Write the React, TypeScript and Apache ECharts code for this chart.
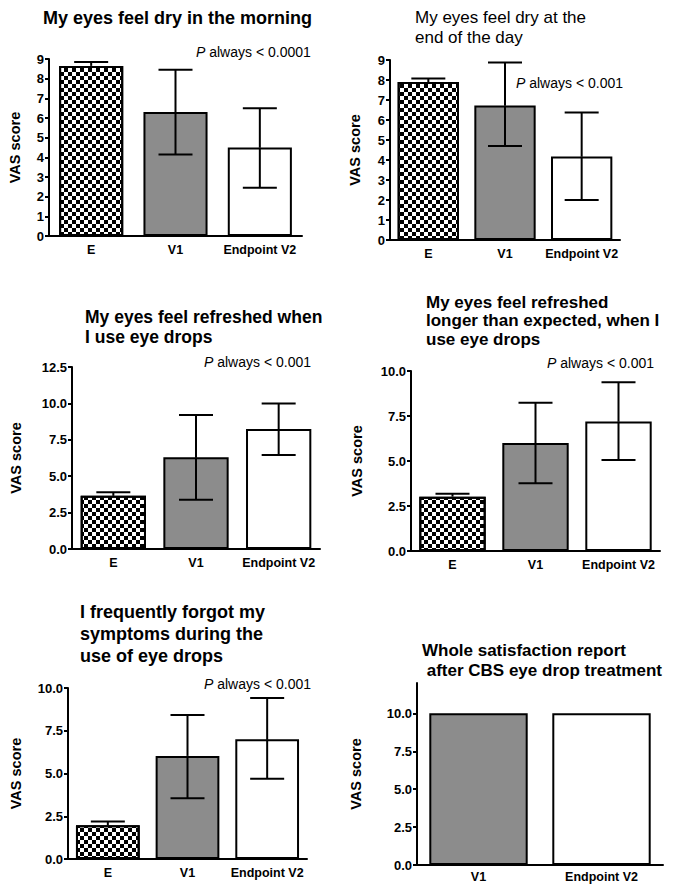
import React, { useEffect, useRef } from "react";
import * as echarts from "echarts";

// ---------- DATA ----------
const catsEVV = ["E", "V1", "Endpoint V2"];
const catsVV = ["V1", "Endpoint V2"];

const p1Mean = [8.65, 6.3, 4.5];
const p1Hi = [8.85, 8.45, 6.5];
const p1Lo = [null, 4.15, 2.45];

const p2Mean = [7.9, 6.72, 4.18];
const p2Hi = [8.07, 8.87, 6.38];
const p2Lo = [null, 4.7, 2.0];

const p3Mean = [3.65, 6.3, 8.24];
const p3Hi = [3.9, 9.2, 10.0];
const p3Lo = [null, 3.38, 6.46];

const p4Mean = [3.02, 6.0, 7.2];
const p4Hi = [3.18, 8.23, 9.38];
const p4Lo = [null, 3.77, 5.05];

const p5Mean = [1.97, 6.03, 7.0];
const p5Hi = [2.2, 8.42, 9.42];
const p5Lo = [null, 3.55, 4.7];

const p6Mean = [10.0, 10.0];

const titles = [
  ["My eyes feel dry in the morning"],
  ["My eyes feel dry at the", "end of the day"],
  ["My eyes feel refreshed when", "I use eye drops"],
  ["My eyes feel refreshed", "longer than expected, when I", "use eye drops"],
  ["I frequently forgot my", "symptoms during the", "use of eye drops"],
  ["Whole satisfaction report", " after CBS eye drop treatment"],
];
const pTexts = ["0.0001", "0.001", "0.001", "0.001", "0.001"];
const yName = "VAS score";

// ---------- STYLE / LAYOUT ----------
const FONT = "'Liberation Sans', Arial, sans-serif";

const checker = {
  symbol: "rect",
  symbolSize: 1,
  color: "#000",
  dashArrayX: [[4, 4], [0, 4, 4, 0]],
  dashArrayY: [4, 0],
  rotation: 0,
};
const catStyle: Record<string, any> = {
  E: { color: "#fff", decal: checker },
  V1: { color: "#8c8c8c" },
  "Endpoint V2": { color: "#fff" },
};

type Panel = {
  cats: string[];
  mean: number[];
  hi?: number[];
  lo?: (number | null)[];
  grid: { left: number; top: number; width: number; height: number };
  max: number;
  interval: number;
  decimals: number;
  nameGap: number;
  gap: string;
  xMargin: number;
  title: string[];
  titleX: number;
  titleY: number;
  titleLH: number;
  titleSize: number;
  titleWeight: string;
  p?: { text: string; x: number; y: number };
};

const panels: Panel[] = [
  {
    cats: catsEVV, mean: p1Mean, hi: p1Hi, lo: p1Lo,
    grid: { left: 49, top: 59, width: 253, height: 177 },
    max: 9, interval: 1, decimals: 0, nameGap: 27, gap: "24%", xMargin: 7,
    title: titles[0], titleX: 43, titleY: 18, titleLH: 20, titleSize: 18, titleWeight: "bold",
    p: { text: pTexts[0], x: 196, y: 52 },
  },
  {
    cats: catsEVV, mean: p2Mean, hi: p2Hi, lo: p2Lo,
    grid: { left: 390, top: 60, width: 230, height: 180 },
    max: 9, interval: 1, decimals: 0, nameGap: 28, gap: "20%", xMargin: 7,
    title: titles[1], titleX: 415, titleY: 17, titleLH: 20, titleSize: 17, titleWeight: "normal",
    p: { text: pTexts[1], x: 516, y: 83 },
  },
  {
    cats: catsEVV, mean: p3Mean, hi: p3Hi, lo: p3Lo,
    grid: { left: 72, top: 367, width: 248, height: 182 },
    max: 12.5, interval: 2.5, decimals: 1, nameGap: 49, gap: "21%", xMargin: 7,
    title: titles[2], titleX: 85, titleY: 317, titleLH: 20, titleSize: 17.5, titleWeight: "bold",
    p: { text: pTexts[2], x: 204, y: 362 },
  },
  {
    cats: catsEVV, mean: p4Mean, hi: p4Hi, lo: p4Lo,
    grid: { left: 411, top: 371, width: 249, height: 180 },
    max: 10, interval: 2.5, decimals: 1, nameGap: 47, gap: "20%", xMargin: 7,
    title: titles[3], titleX: 426, titleY: 302, titleLH: 18.5, titleSize: 17, titleWeight: "bold",
    p: { text: pTexts[3], x: 547, y: 363 },
  },
  {
    cats: catsEVV, mean: p5Mean, hi: p5Hi, lo: p5Lo,
    grid: { left: 68, top: 688, width: 239, height: 171 },
    max: 10, interval: 2.5, decimals: 1, nameGap: 45, gap: "20%", xMargin: 7,
    title: titles[4], titleX: 80, titleY: 612, titleLH: 22, titleSize: 18, titleWeight: "bold",
    p: { text: pTexts[4], x: 204, y: 684 },
  },
  {
    cats: catsVV, mean: p6Mean,
    grid: { left: 417, top: 683, width: 246, height: 182 },
    max: 12, interval: 2.5, decimals: 1, nameGap: 54, gap: "20%", xMargin: 5,
    title: titles[5], titleX: 422, titleY: 650, titleLH: 20, titleSize: 17, titleWeight: "bold",
  },
];

function buildOption() {
  const grid: any[] = [];
  const xAxis: any[] = [];
  const yAxis: any[] = [];
  const series: any[] = [];
  const graphic: any[] = [];

  panels.forEach((p, gi) => {
    grid.push({ ...p.grid, containLabel: false, outerBoundsMode: "none" });
    xAxis.push({
      type: "category",
      gridIndex: gi,
      data: p.cats,
      axisLine: { lineStyle: { color: "#000", width: 2 } },
      axisTick: { alignWithLabel: true, length: 5, interval: 0, lineStyle: { color: "#000", width: 2 } },
      axisLabel: {
        interval: 0,
        hideOverlap: false,
        color: "#000",
        fontWeight: "bold",
        fontSize: 12.5,
        fontFamily: FONT,
        margin: p.xMargin,
      },
      splitLine: { show: false },
    });
    yAxis.push({
      type: "value",
      gridIndex: gi,
      min: 0,
      max: p.max,
      interval: p.interval,
      name: yName,
      nameLocation: "middle",
      nameGap: p.nameGap,
      nameTextStyle: { color: "#000", fontWeight: "bold", fontSize: 14.5, fontFamily: FONT },
      axisLine: { show: true, lineStyle: { color: "#000", width: 2 } },
      axisTick: { show: true, length: 4, lineStyle: { color: "#000", width: 2 } },
      axisLabel: {
        color: "#000",
        fontWeight: "bold",
        fontSize: 13,
        fontFamily: FONT,
        margin: 5,
        showMaxLabel: p.max % p.interval === 0,
        formatter: (v: number) => v.toFixed(p.decimals),
      },
      splitLine: { show: false },
    });
    series.push({
      type: "bar",
      xAxisIndex: gi,
      yAxisIndex: gi,
      barCategoryGap: p.gap,
      data: p.mean.map((v, i) => ({
        value: v,
        itemStyle: { ...catStyle[p.cats[i]], borderColor: "#000", borderWidth: 2 },
      })),
      z: 2,
    });
    if (p.hi && p.lo) {
      const hi = p.hi;
      const lo = p.lo;
      series.push({
        type: "custom",
        xAxisIndex: gi,
        yAxisIndex: gi,
        z: 5,
        encode: { x: 0, y: [1, 2, 3] },
        data: p.mean.map((m, i) => [i, hi[i], lo[i] == null ? m : lo[i], m]),
        renderItem: (params: any, api: any) => {
          const idx = api.value(0);
          const h = api.value(1);
          const l = api.value(2);
          const m = api.value(3);
          const pt = api.coord([idx, h]);
          const pm = api.coord([idx, m]);
          const pl = api.coord([idx, l]);
          const cap = 17;
          const st = { stroke: "#000", lineWidth: 2 };
          const children: any[] = [
            { type: "line", shape: { x1: pt[0], y1: pt[1], x2: pm[0], y2: pm[1] }, style: st },
            { type: "line", shape: { x1: pt[0] - cap, y1: pt[1], x2: pt[0] + cap, y2: pt[1] }, style: st },
          ];
          if (l < m - 1e-9) {
            children.push({ type: "line", shape: { x1: pm[0], y1: pm[1], x2: pl[0], y2: pl[1] }, style: st });
            children.push({ type: "line", shape: { x1: pl[0] - cap, y1: pl[1], x2: pl[0] + cap, y2: pl[1] }, style: st });
          }
          return { type: "group", children };
        },
      });
    }
    p.title.forEach((line, li) => {
      graphic.push({
        type: "text",
        x: p.titleX,
        y: p.titleY + li * p.titleLH,
        style: {
          text: line,
          fill: "#000",
          fontSize: p.titleSize,
          fontWeight: p.titleWeight,
          fontFamily: FONT,
          verticalAlign: "middle",
          align: "left",
        },
      });
    });
    if (p.p) {
      graphic.push({
        type: "text",
        x: p.p.x,
        y: p.p.y,
        style: {
          text: "{i|P} always < " + p.p.text,
          fill: "#000",
          fontSize: 14,
          fontFamily: FONT,
          verticalAlign: "middle",
          align: "left",
          rich: { i: { fontStyle: "italic", fontSize: 14, fontFamily: FONT, fill: "#000" } },
        },
      });
    }
  });

  return {
    animation: false,
    backgroundColor: "#fff",
    textStyle: { fontFamily: FONT },
    grid,
    xAxis,
    yAxis,
    series,
    graphic,
  };
}

export default function App() {
  const ref = useRef<HTMLDivElement>(null);
  useEffect(() => {
    if (!ref.current) return;
    const chart = echarts.init(ref.current, undefined, { renderer: "svg" });
    chart.setOption(buildOption() as any);
    return () => chart.dispose();
  }, []);
  return (
    <div
      ref={ref}
      style={{ position: "absolute", left: 0, top: 0, width: 679, height: 884, background: "#fff" }}
    />
  );
}
